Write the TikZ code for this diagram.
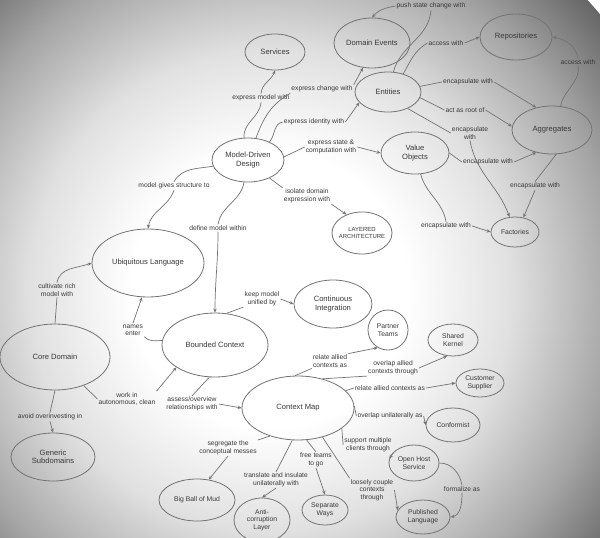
\documentclass[tikz,border=0pt]{standalone}
\usepackage{fontspec}
\setmainfont{Liberation Sans}
\usetikzlibrary{shapes.geometric,arrows.meta}
\pgfdeclareradialshading{vign}{\pgfpoint{0bp}{0bp}}{color(0bp)=(white); color(8bp)=(white); color(14bp)=(black!12); color(20bp)=(black!35); color(25bp)=(black!60); color(50bp)=(black!60)}
\definecolor{linec}{gray}{0.45}
\definecolor{txtc}{gray}{0.22}
\begin{document}
\begin{tikzpicture}[x=1pt,y=-1pt,
  ent/.style={ellipse, draw=linec, line width=0.8pt, inner sep=-12pt, align=center,
    font=\fontsize{7.6}{8.5}\selectfont, text=txtc},
  small/.style={font=\fontsize{6.8}{7.6}\selectfont},
  sz/.style 2 args={minimum width=#1pt, minimum height=#2pt},
  lbl/.style={inner sep=1pt, align=center, font=\fontsize{6.7}{7.5}\selectfont, text=txtc},
  ln/.style={draw=linec, line width=0.7pt},
  arr/.style={ln, -{Stealth[length=4pt,width=3.4pt]}},
]
\useasboundingbox (0,0) rectangle (600,538);
\begin{scope}
  \clip (0,0) rectangle (600,538);
  \shade[shading=vign] (270,290) circle (430pt);
\end{scope}

% ---------- nodes ----------
\node[ent, sz={60}{36}] (services) at (275,52) {Services};
\node[ent, sz={76}{50}] (de) at (372,43) {Domain Events};
\node[ent, sz={66}{40}] (ent) at (388,92) {Entities};
\node[ent, sz={72}{46}] (repo) at (516,37) {Repositories};
\node[ent, sz={80}{48}] (agg) at (552,130) {Aggregates};
\node[ent, sz={68}{42}] (vo) at (415,153) {Value\\Objects};
\node[ent, sz={48}{30}, small] (fact) at (515,232) {Factories};
\node[ent, sz={60}{42}, font=\fontsize{5.9}{7}\selectfont] (la) at (362,233) {LAYERED\\ARCHITECTURE};
\node[ent, sz={72}{44}] (mdd) at (248,160) {Model-Driven\\Design};
\node[ent, sz={112}{68}] (ul) at (148,263) {Ubiquitous Language};
\node[ent, sz={106}{64}] (bc) at (215,345) {Bounded Context};
\node[ent, sz={78}{48}] (ci) at (333,304) {Continuous\\Integration};
\node[ent, sz={110}{66}] (cd) at (55,357) {Core Domain};
\node[ent, sz={84}{48}] (gs) at (53,457) {Generic\\Subdomains};
\node[ent, sz={112}{64}] (cm) at (298,408) {Context Map};
\node[ent, sz={40}{40}, small] (kerL) at (388,330) {Partner\\Teams};
\node[ent, sz={50}{32}, small] (kerR) at (453,340) {Shared\\Kernel};
\node[ent, sz={48}{28}, small] (cust) at (480,383) {Customer\\Supplier};
\node[ent, sz={54}{34}, small] (conf) at (453,425) {Conformist};
\node[ent, sz={50}{36}, small] (ohs) at (414,463) {Open Host\\Service};
\node[ent, sz={54}{34}, small] (pl) at (423,517) {Published\\Language};
\node[ent, sz={46}{30}, small] (sw) at (325,510) {Separate\\Ways};
\node[ent, sz={56}{44}, small] (acl) at (262,520) {Anti-\\corruption\\Layer};
\node[ent, sz={76}{42}, small] (bbom) at (197,500) {Big Ball of Mud};

% ---------- labels ----------
\node[lbl] (lPush) at (431,6) {push state change with};
\node[lbl] (lAcc) at (446,43) {access with};
\node[lbl] (lAcc2) at (578,62) {access with};
\node[lbl] (lEnc1) at (468,82) {encapsulate with};
\node[lbl] (lRoot) at (465,110) {act as root of};
\node[lbl] (lEnc2) at (470,133) {encapsulate\\with};
\node[lbl] (lEnc3) at (488,162) {encapsulate with};
\node[lbl] (lEnc4) at (535,186) {encapsulate with};
\node[lbl] (lEnc5) at (446,226) {encapsulate with};
\node[lbl] (lModel) at (261,98) {express model with};
\node[lbl] (lChange) at (322,89) {express change with};
\node[lbl] (lIdent) at (314,122) {express identity with};
\node[lbl] (lState) at (331,147) {express state \&\\computation with};
\node[lbl] (lIso) at (307,196) {isolate domain\\expression with};
\node[lbl] (lStruct) at (174,186) {model gives structure to};
\node[lbl] (lDefine) at (218,228) {define model within};
\node[lbl] (lCult) at (57,290) {cultivate rich\\model with};
\node[lbl] (lNames) at (133,330) {names\\enter};
\node[lbl] (lKeep) at (262,299) {keep model\\unified by};
\node[lbl] (lAvoid) at (50,417) {avoid overinvesting in};
\node[lbl] (lWork) at (127,399) {work in\\autonomous, clean};
\node[lbl] (lAssess) at (192,404) {assess/overview\\relationships with};
\node[lbl] (lDep) at (330,361) {relate allied\\contexts as};
\node[lbl] (lOverlap) at (393,368) {overlap allied\\contexts through};
\node[lbl] (lRelate) at (390,388) {relate allied contexts as};
\node[lbl] (lOverU) at (390,416) {overlap unilaterally as};
\node[lbl] (lSupport) at (368,445) {support multiple\\clients through};
\node[lbl] (lLoose) at (372,490) {loosely couple\\contexts\\through};
\node[lbl] (lFree) at (316,460) {free teams\\to go};
\node[lbl] (lTrans) at (276,480) {translate and insulate\\unilaterally with};
\node[lbl] (lSeg) at (228,448) {segregate the\\conceptual messes};
\node[lbl] (lForm) at (462,489) {formalize as};

% ---------- connectors: building blocks ----------
\draw[ln] (ent.75) to[out=75,in=-95] (lPush.south);
\draw[arr] (lPush.west) to[out=190,in=50] (de.north);
\draw[ln] (ent.50) to[out=60,in=-150] (lAcc.west);
\draw[arr] (lAcc.east) -- (repo.west);
\draw[ln] (agg.70) to[out=80,in=-80] (lAcc2.south);
\draw[arr] (lAcc2.north) to[out=100,in=-10] (repo.east);
\draw[ln] (ent.10) -- (lEnc1.west);
\draw[arr] (lEnc1.east) -- (agg.125);
\draw[ln] (ent.-10) -- (lRoot.west);
\draw[arr] (lRoot.east) -- (agg.175);
\draw[ln] (ent.-40) -- (lEnc2.west);
\draw[arr] (lEnc2.south) to[out=-80,in=110] (fact.110);
\draw[ln] (vo.east) -- (lEnc3.west);
\draw[arr] (lEnc3.east) -- (agg.-125);
\draw[ln] (agg.-80) -- (lEnc4.north);
\draw[arr] (lEnc4.south) -- (fact.60);
\draw[ln] (vo.-75) to[out=-75,in=100] (lEnc5.north);
\draw[arr] (lEnc5.east) -- (fact.west);

% ---------- connectors: model-driven design ----------
\draw[ln] (mdd.100) to[out=95,in=-95] (lModel.south);
\draw[arr] (lModel.north) to[out=85,in=-110] (services.south);
\draw[ln] (mdd.70) to[out=70,in=-150] (lChange.south west);
\draw[arr] (lChange.north east) -- (de.250);
\draw[ln] (mdd.40) to[out=50,in=-170] (lIdent.west);
\draw[arr] (lIdent.east) -- (ent.200);
\draw[ln] (mdd.5) -- (lState.west);
\draw[arr] (lState.east) -- (vo.west);
\draw[ln] (mdd.-40) -- (lIso.north west);
\draw[arr] (lIso.south east) -- (la.130);
\draw[ln] (mdd.190) to[out=190,in=60] (lStruct.north);
\draw[arr] (lStruct.south) to[out=-110,in=80] (ul.north);
\draw[ln] (mdd.-100) to[out=-100,in=80] (lDefine.north);
\draw[arr] (lDefine.south) to[out=-90,in=90] (bc.north);

% ---------- connectors: strategic design ----------
\draw[ln] (cd.north) -- (lCult.south);
\draw[arr] (lCult.north) to[out=80,in=200] (ul.west);
\draw[ln] (bc.175) to[out=185,in=-45] (lNames.south east);
\draw[arr] (lNames.north) -- (ul.-100);
\draw[ln] (bc.70) -- (lKeep.south west);
\draw[arr] (lKeep.east) -- (ci.west);
\draw[ln] (cd.south) -- (lAvoid.north);
\draw[arr] (lAvoid.south) -- (gs.north);
\draw[ln] (cd.-45) -- (lWork.west);
\draw[arr] (lWork.north east) -- (bc.-150);
\draw[ln] (bc.-100) -- (lAssess.north);
\draw[arr] (lAssess.east) -- (cm.west);

% ---------- connectors: context map ----------
\draw[ln] (cm.95) -- (lDep.south west);
\draw[arr] (lDep.north east) -- (kerL.-120);
\draw[ln] (cm.50) -- (lOverlap.south west);
\draw[arr] (lOverlap.east) -- (kerR.-110);
\draw[ln] (cm.20) -- (lRelate.west);
\draw[arr] (lRelate.east) -- (cust.west);
\draw[ln] (cm.2) -- (lOverU.west);
\draw[arr] (lOverU.east) -- (conf.west);
\draw[ln] (cm.-25) -- (lSupport.west);
\draw[arr] (lSupport.south east) -- (ohs.170);
\draw[ln] (cm.-50) -- (lLoose.north west);
\draw[arr] (lLoose.east) -- (pl.165);
\draw[ln] (cm.-75) -- (lFree.north);
\draw[arr] (lFree.south) -- (sw.north);
\draw[ln] (cm.-100) -- (lTrans.north);
\draw[arr] (lTrans.south) -- (acl.north);
\draw[ln] (cm.-135) -- (lSeg.north east);
\draw[arr] (lSeg.south) -- (bbom.60);
\draw[ln] (ohs.east) to[out=0,in=100] (lForm.north);
\draw[arr] (lForm.south) to[out=-90,in=10] (pl.east);
\end{tikzpicture}
\end{document}
